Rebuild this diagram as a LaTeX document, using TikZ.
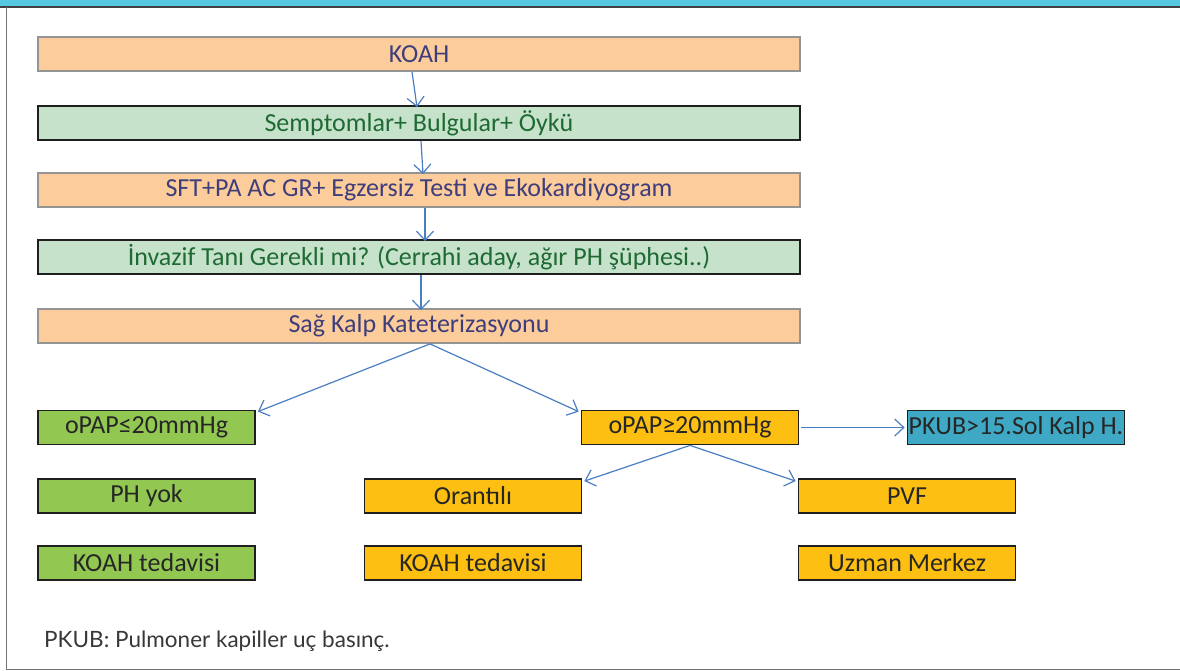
\documentclass[tikz,border=0pt]{standalone}
\usepackage{fontspec}
\setmainfont{Carlito}
\newfontfamily\notefont{Lato}
\usetikzlibrary{arrows.meta}
\definecolor{peach}{HTML}{FCCC9A}
\definecolor{mint}{HTML}{C6E2CA}
\definecolor{leaf}{HTML}{92C852}
\definecolor{amber}{HTML}{FDC012}
\definecolor{teal}{HTML}{3FA9C5}
\definecolor{navytext}{HTML}{3E3E7C}
\definecolor{greentext}{HTML}{1F6A34}
\definecolor{flow}{HTML}{4A7EC2}
\definecolor{barcyan}{HTML}{56C8E2}
\tikzset{
  wide/.style={minimum width=762pt, minimum height=34pt, inner sep=0pt, line width=1.8pt, font=\fontsize{26}{28}\selectfont},
  peachbox/.style={wide, fill=peach, draw=black!42, text=navytext},
  mintbox/.style={wide, fill=mint, draw=black!88, text=greentext},
  small/.style={minimum width=217pt, minimum height=34pt, inner sep=0pt, line width=1.8pt, draw=black!88, text=black!85, font=\fontsize{26}{28}\selectfont},
  leafbox/.style={small, fill=leaf},
  amberbox/.style={small, fill=amber},
  tealbox/.style={small, fill=teal},
  link/.style={draw=flow, line width=1.2pt, -{Straight Barb[length=9pt,width=17pt,line width=1.2pt]}}
}
\begin{document}
\begin{tikzpicture}[x=1pt,y=-1pt]
\useasboundingbox (0,0) rectangle (1180,671);
% frame
\fill[barcyan] (0,0) rectangle (1180,6);
\draw[black!75, line width=1.5pt] (0,6.8) -- (1180,6.8);
\draw[black!55, line width=1.2pt] (6.5,7) -- (6.5,669.5) -- (1180,669.5);
% main column
\node[peachbox] (koah) at (419,54) {KOAH};
\node[mintbox] (semp) at (419,123) {Semptomlar+ Bulgular+ Öykü};
\node[peachbox] (sft) at (419,190) {SFT+PA AC GR+ Egzersiz Testi ve Ekokardiyogram};
\node[mintbox] (inv) at (419,257) {İnvazif Tanı Gerekli mi? (Cerrahi aday, ağır PH şüphesi..)};
\node[peachbox] (skk) at (419,326) {Sağ Kalp Kateterizasyonu};
% branches
\node[leafbox] (low) at (146.5,427.5) {oPAP≤20mmHg};
\node[amberbox] (high) at (690,427.5) {oPAP≥20mmHg};
\node[tealbox] (pkub) at (1016,427.5) {PKUB>15.Sol Kalp H.};
\node[leafbox] (phyok) at (146.5,496) {PH yok};
\node[amberbox] (orant) at (473,496) {Orantılı};
\node[amberbox] (pvf) at (907,496) {PVF};
\node[leafbox] (ted1) at (146.5,563) {KOAH tedavisi};
\node[amberbox] (ted2) at (473,563) {KOAH tedavisi};
\node[amberbox] (uzman) at (907,563) {Uzman Merkez};
% connectors
\draw[link] ([xshift=-7pt]koah.south) -- ([xshift=-2pt,yshift=-2pt]semp.north);
\draw[link] ([xshift=2pt]semp.south) -- ([xshift=4pt,yshift=-2pt]sft.north);
\draw[link] ([xshift=6pt]sft.south) -- ([xshift=6pt,yshift=-2pt]inv.north);
\draw[link] ([xshift=2pt]inv.south) -- ([xshift=2pt,yshift=-2pt]skk.north);
\draw[link] ([xshift=11pt]skk.south) -- ([xshift=2pt,yshift=-2pt]low.north east);
\draw[link] ([xshift=11pt]skk.south) -- ([xshift=-2pt,yshift=-2pt]high.north west);
\draw[link] ([xshift=2pt]high.east) -- ([xshift=-2pt]pkub.west);
\draw[link] (high.south) -- ([xshift=2pt,yshift=-3pt]orant.north east);
\draw[link] (high.south) -- ([xshift=-2pt,yshift=-3pt]pvf.north west);
% footnote
\node[anchor=base west, inner sep=0pt, text=black!78, font=\notefont\fontsize{22.5}{24}\selectfont] (note) at (44,647) {PKUB: Pulmoner kapiller uç basınç.};
\end{tikzpicture}
\end{document}
